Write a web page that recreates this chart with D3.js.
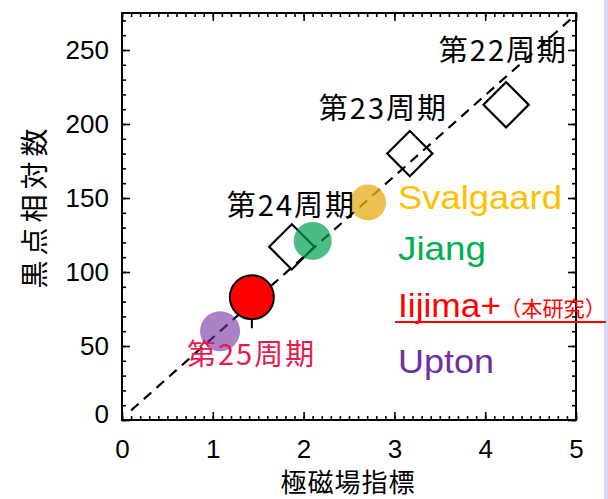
<!DOCTYPE html>
<html>
<head>
<meta charset="utf-8">
<script src="https://cdn.jsdelivr.net/npm/d3@7"></script>
<style>
  html, body { margin: 0; padding: 0; background: #ffffff; }
  svg { display: block; }
</style>
</head>
<body>
<svg id="chart" width="608" height="499"></svg>
<script>
// Past solar cycles: polar field index vs. sunspot number
const cycleNames = ["第22周期", "第23周期", "第24周期"];
const cyclePolar = [4.23, 3.17, 1.87];
const cycleSunspot = [213, 180, 117];

// Cycle 25 predictions
const predNames = ["Svalgaard", "Jiang", "Iijima+", "Upton"];
const predPolar = [2.71, 2.10, 1.43, 1.08];
const predSunspot = [147, 121, 83, 60];
const predColors = ["#e8b020", "#00a050", "#ff0000", "#7030a0"];
const predOpacity = [0.78, 0.7, 1, 0.6];
const iijimaRange = [62, 95];

// Linear relation drawn as a dashed guide
const fitSlope = 54.6;
const fitIntercept = 1.0;
const fitRange = [0.1, 5.0];

const xTicks = [0, 1, 2, 3, 4, 5];
const yTicks = [0, 50, 100, 150, 200, 250];

const svg = d3.select("#chart");
const x = d3.scaleLinear().domain([0, 5]).range([122, 576]);
const y = d3.scaleLinear().domain([0, 275]).range([420, 13]);

// thin lavender strip on the right edge
svg.append("rect").attr("x", 604).attr("y", 0).attr("width", 4).attr("height", 499)
  .attr("fill", "#d9d9f2");

const tickFont = "'Liberation Sans', Arial, sans-serif";
const cjkFont = "'Noto Sans CJK JP', sans-serif";

function styleAxis(g) {
  g.select(".domain").remove();
  g.selectAll(".tick line").attr("stroke", "#000").attr("stroke-width", 1.6);
  g.selectAll("text").attr("font-family", tickFont).attr("font-size", 26).attr("fill", "#000");
}

const xMinor = d3.range(0, 5.0001, 0.1).map(v => +v.toFixed(2));
const yMinor = d3.range(0, 275.001, 10);

// minor ticks on all four sides, pointing inward
svg.append("g").attr("transform", `translate(0,${y(0)})`)
  .call(d3.axisBottom(x).tickValues(xMinor).tickSize(-4).tickFormat("")).call(styleAxis);
svg.append("g").attr("transform", `translate(0,${y(275)})`)
  .call(d3.axisTop(x).tickValues(xMinor).tickSize(-4).tickFormat("")).call(styleAxis);
svg.append("g").attr("transform", `translate(${x(0)},0)`)
  .call(d3.axisLeft(y).tickValues(yMinor).tickSize(-4).tickFormat("")).call(styleAxis);
svg.append("g").attr("transform", `translate(${x(5)},0)`)
  .call(d3.axisRight(y).tickValues(yMinor).tickSize(-4).tickFormat("")).call(styleAxis);

// major ticks with labels on bottom and left
svg.append("g").attr("transform", `translate(0,${y(0)})`)
  .call(d3.axisBottom(x).tickValues(xTicks).tickSize(-8).tickPadding(20).tickFormat(d3.format("d")))
  .call(styleAxis);
svg.append("g").attr("transform", `translate(0,${y(275)})`)
  .call(d3.axisTop(x).tickValues(xTicks).tickSize(-8).tickFormat("")).call(styleAxis);
const yAxisG = svg.append("g").attr("transform", `translate(${x(0)},0)`)
  .call(d3.axisLeft(y).tickValues(yTicks).tickSize(-8).tickPadding(13).tickFormat(d3.format("d")))
  .call(styleAxis);
yAxisG.selectAll(".tick text").filter(d => d === 0).attr("dy", "0.1em");
svg.append("g").attr("transform", `translate(${x(5)},0)`)
  .call(d3.axisRight(y).tickValues(yTicks).tickSize(-8).tickFormat("")).call(styleAxis);

// frame
svg.append("rect")
  .attr("x", x(0)).attr("y", y(275))
  .attr("width", x(5) - x(0)).attr("height", y(0) - y(275))
  .attr("fill", "none").attr("stroke", "#000").attr("stroke-width", 2);

// dashed guide line, clipped to the frame
svg.append("clipPath").attr("id", "plotClip").append("rect")
  .attr("x", x(0)).attr("y", y(275)).attr("width", x(5) - x(0)).attr("height", y(0) - y(275));
const fitLine = d3.line().x(d => x(d)).y(d => y(fitSlope * d + fitIntercept));
svg.append("path").datum(fitRange)
  .attr("clip-path", "url(#plotClip)")
  .attr("d", fitLine)
  .attr("fill", "none").attr("stroke", "#000").attr("stroke-width", 2.2)
  .attr("stroke-dasharray", "10,7");

// observed cycles as open diamonds
const diamond = d3.symbol().type(d3.symbolSquare).size(32 * 32);
svg.append("g").selectAll("path").data(cyclePolar).join("path")
  .attr("d", diamond)
  .attr("transform", (d, i) => `translate(${x(d)},${y(cycleSunspot[i])}) rotate(45)`)
  .attr("fill", "none").attr("stroke", "#000").attr("stroke-width", 2.2);

// Iijima+ range bar
svg.append("line")
  .attr("x1", x(predPolar[2])).attr("x2", x(predPolar[2]))
  .attr("y1", y(iijimaRange[0])).attr("y2", y(iijimaRange[1]))
  .attr("stroke", "#000").attr("stroke-width", 2);

// prediction circles
const radii = [18, 19, 22, 20];
svg.append("g").selectAll("circle").data(predPolar).join("circle")
  .attr("cx", d => x(d))
  .attr("cy", (d, i) => y(predSunspot[i]))
  .attr("r", (d, i) => radii[i])
  .attr("fill", (d, i) => predColors[i])
  .attr("fill-opacity", (d, i) => predOpacity[i])
  .attr("stroke", (d, i) => i === 2 ? "#000" : "none")
  .attr("stroke-width", 2);

// cycle labels
const cycleLabelPos = [[568, 61], [448, 119], [356, 216]];
svg.append("g").selectAll("text").data(cycleNames).join("text")
  .attr("x", (d, i) => cycleLabelPos[i][0])
  .attr("y", (d, i) => cycleLabelPos[i][1])
  .attr("text-anchor", "end")
  .attr("font-family", cjkFont).attr("font-size", 29)
  .attr("letter-spacing", 2)
  .attr("fill", "#000")
  .text(d => d);

svg.append("text")
  .attr("x", 187).attr("y", 365)
  .attr("font-family", cjkFont).attr("font-size", 29)
  .attr("letter-spacing", 2)
  .attr("fill", "#e8194b")
  .text("第25周期");

// legend of predictions
const legendColors = ["#ffc000", "#00b050", "#ff0000", "#7030a0"];
const legendBase = [209, 260, 317, 373];
const legendWidth = [164, 88, 103, 96];
const legend = svg.append("g");
predNames.forEach((name, i) => {
  legend.append("text")
    .attr("x", 398).attr("y", legendBase[i])
    .attr("font-family", tickFont).attr("font-size", 34)
    .attr("textLength", legendWidth[i]).attr("lengthAdjust", "spacingAndGlyphs")
    .attr("fill", legendColors[i])
    .text(name);
});
legend.append("text")
  .attr("x", 500).attr("y", 316)
  .attr("font-family", cjkFont).attr("font-size", 21)
  .attr("textLength", 106).attr("lengthAdjust", "spacingAndGlyphs")
  .attr("fill", "#ff0000")
  .text("（本研究）");
legend.append("line")
  .attr("x1", 395).attr("x2", 606).attr("y1", 322).attr("y2", 322)
  .attr("stroke", "#ff0000").attr("stroke-width", 2);

// axis titles
svg.append("text")
  .attr("x", 348).attr("y", 492)
  .attr("text-anchor", "middle")
  .attr("font-family", cjkFont).attr("font-size", 26)
  .attr("letter-spacing", 1)
  .attr("fill", "#000")
  .text("極磁場指標");

svg.append("text")
  .attr("transform", "translate(45,206) rotate(-90)")
  .attr("text-anchor", "middle")
  .attr("font-family", cjkFont).attr("font-size", 28)
  .attr("letter-spacing", 5)
  .attr("fill", "#000")
  .text("黒点相対数");
</script>
</body>
</html>
